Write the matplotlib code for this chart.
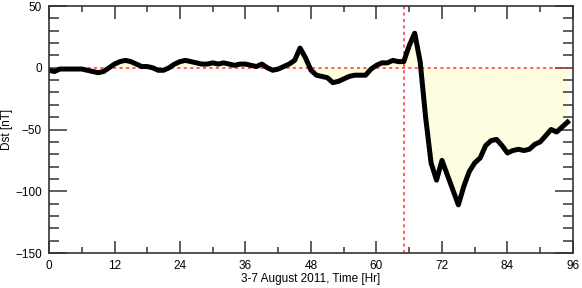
import numpy as np
import matplotlib
matplotlib.use('Agg')
import matplotlib.pyplot as plt
from matplotlib.ticker import MultipleLocator

plt.rcParams['font.family'] = ['Liberation Sans', 'DejaVu Sans']

# hourly Dst index, 3-7 August 2011
hours = list(range(96))
dst = [-2, -3, -1, -1, -1, -1, -1, -2, -3, -4,
       -3, 0, 3, 5, 6, 5, 3, 1, 1, 0,
       -2, -2, 0, 3, 5, 6, 5, 4, 3, 3,
       4, 3, 4, 3, 2, 3, 3, 2, 1, 3,
       0, -2, -1, 1, 3, 6, 16, 8, -2, -6,
       -7, -8, -12, -11, -9, -7, -6, -6, -6, -1,
       2, 4, 4, 6, 5, 5, 18, 28, 5, -40,
       -77, -91, -75, -87, -99, -111, -96, -84, -77, -73,
       -63, -59, -58, -63, -69, -67, -66, -67, -66, -62,
       -60, -55, -50, -52, -48, -44]
storm_onset = 65

fig = plt.figure(figsize=(5.82, 2.88), dpi=100)
ax = fig.add_axes([0.0842, 0.1215, 0.9003, 0.8575])

ax.fill_between(hours, dst, 0, color='#fffde0', lw=0)
ax.axhline(0, color='#ff3030', ls=(0, (2, 2.2)), lw=1.1)
ax.axvline(storm_onset, color='#ff3030', ls=(0, (2, 2.2)), lw=1.1)
ax.plot(hours, dst, color='black', lw=3.6, solid_joinstyle='round')

ax.set_xlim(0, 96)
ax.set_ylim(-150, 50)
ax.xaxis.set_major_locator(MultipleLocator(12))
ax.xaxis.set_minor_locator(MultipleLocator(6))
ax.yaxis.set_major_locator(MultipleLocator(50))
ax.yaxis.set_minor_locator(MultipleLocator(10))

for s in ax.spines.values():
    s.set_color('#333333')
    s.set_linewidth(1.2)
ax.tick_params(which='both', direction='in', top=True, right=True,
               color='#333333', width=1.1, labelsize=8.5, pad=5)
ax.tick_params(axis='x', which='major', length=9)
ax.tick_params(axis='x', which='minor', length=4.5)
ax.tick_params(axis='y', which='major', length=13)
ax.tick_params(axis='y', which='minor', length=7)

ax.set_xlabel('3-7 August 2011, Time [Hr]', fontsize=8.5, labelpad=1)
ax.set_ylabel('Dst [nT]', fontsize=8.5, labelpad=2)

fig.savefig('out.png', dpi=100)
